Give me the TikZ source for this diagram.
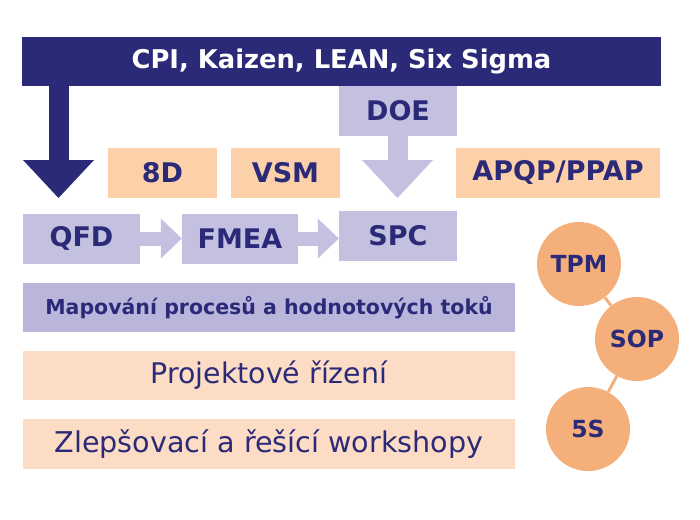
\documentclass[tikz,border=0pt]{standalone}
\usepackage{fontspec}
\setmainfont{DejaVu Sans}
\usetikzlibrary{arrows.meta}
\definecolor{navy}{HTML}{2B2A78}
\definecolor{lila}{HTML}{C4C0E0}
\definecolor{lilatm}{HTML}{BAB5DB}
\definecolor{broskev}{HTML}{FCD0A8}
\definecolor{broskevsv}{HTML}{FDDCC5}
\definecolor{oranz}{HTML}{F4AF7B}
\begin{document}
\begin{tikzpicture}[x=1pt,y=-1pt,
    box/.style={rectangle,inner sep=0pt,minimum height=50pt,text=navy,font=\bfseries\fontsize{27}{27}\selectfont},
    kruh/.style={circle,fill=oranz,minimum size=84pt,inner sep=0pt,text=navy,font=\bfseries\fontsize{23.5}{23.5}\selectfont},
    sipka/.style={line width=20pt,-{Triangle[length=38pt,width=71pt,line width=0pt]}},
    malasipka/.style={line width=14pt,-{Triangle[length=21pt,width=40pt,line width=0pt]}}]
    \useasboundingbox (0,0) rectangle (700,519);
    %horni pruh
    \node[box,fill=navy,text=white,minimum width=639pt,minimum height=49pt,font=\bfseries\fontsize{25.8}{25.8}\selectfont] (cpi) at (341.5,61.5) {CPI, Kaizen, LEAN, Six Sigma};
    %prostredni bloky
    \node[box,fill=lila,minimum width=118pt] (doe) at (398,111) {DOE};
    \node[box,fill=broskev,minimum width=109pt] (d8) at (162.5,172.5) {8D};
    \node[box,fill=broskev,minimum width=109pt] (vsm) at (285.5,172.5) {VSM};
    \node[box,fill=broskev,minimum width=204pt] (apqp) at (558,172.5) {APQP/PPAP};
    \node[box,fill=lila,minimum width=117pt] (qfd) at (81.5,238.5) {QFD};
    \node[box,fill=lila,minimum width=116pt] (fmea) at (240,238.5) {FMEA};
    \node[box,fill=lila,minimum width=118pt] (spc) at (398,235.5) {SPC};
    %sipky
    \coordinate (hrot) at (58.5,198);
    \coordinate (drot) at (397.5,198);
    \draw[sipka,navy] (cpi.south -| hrot) -- (hrot);
    \draw[sipka,lila] (doe.south -| drot) -- (drot);
    \draw[malasipka,lila] (qfd.east) -- (fmea.west);
    \draw[malasipka,lila] (fmea.east) -- (fmea.east -| spc.west);
    %spodni pruhy
    \node[box,fill=lilatm,minimum width=492pt,minimum height=49pt,font=\bfseries\fontsize{20.5}{20.5}\selectfont] (map) at (269,307.5) {Mapování procesů a hodnotových toků};
    \node[box,fill=broskevsv,minimum width=492pt,minimum height=49pt,font=\fontsize{28.4}{28.4}\selectfont] (proj) at (269,375.5) {Projektové řízení};
    \node[box,fill=broskevsv,minimum width=492pt,font=\fontsize{28.6}{28.6}\selectfont] (zlep) at (269,444) {Zlepšovací a řešící workshopy};
    %kruhy
    \node[kruh] (tpm) at (579,264) {TPM};
    \node[kruh] (sop) at (637,339) {SOP};
    \node[kruh] (s5) at (588,429) {5S};
    \draw[oranz,line width=3pt] (tpm) -- (sop) -- (s5);
\end{tikzpicture}
\end{document}
